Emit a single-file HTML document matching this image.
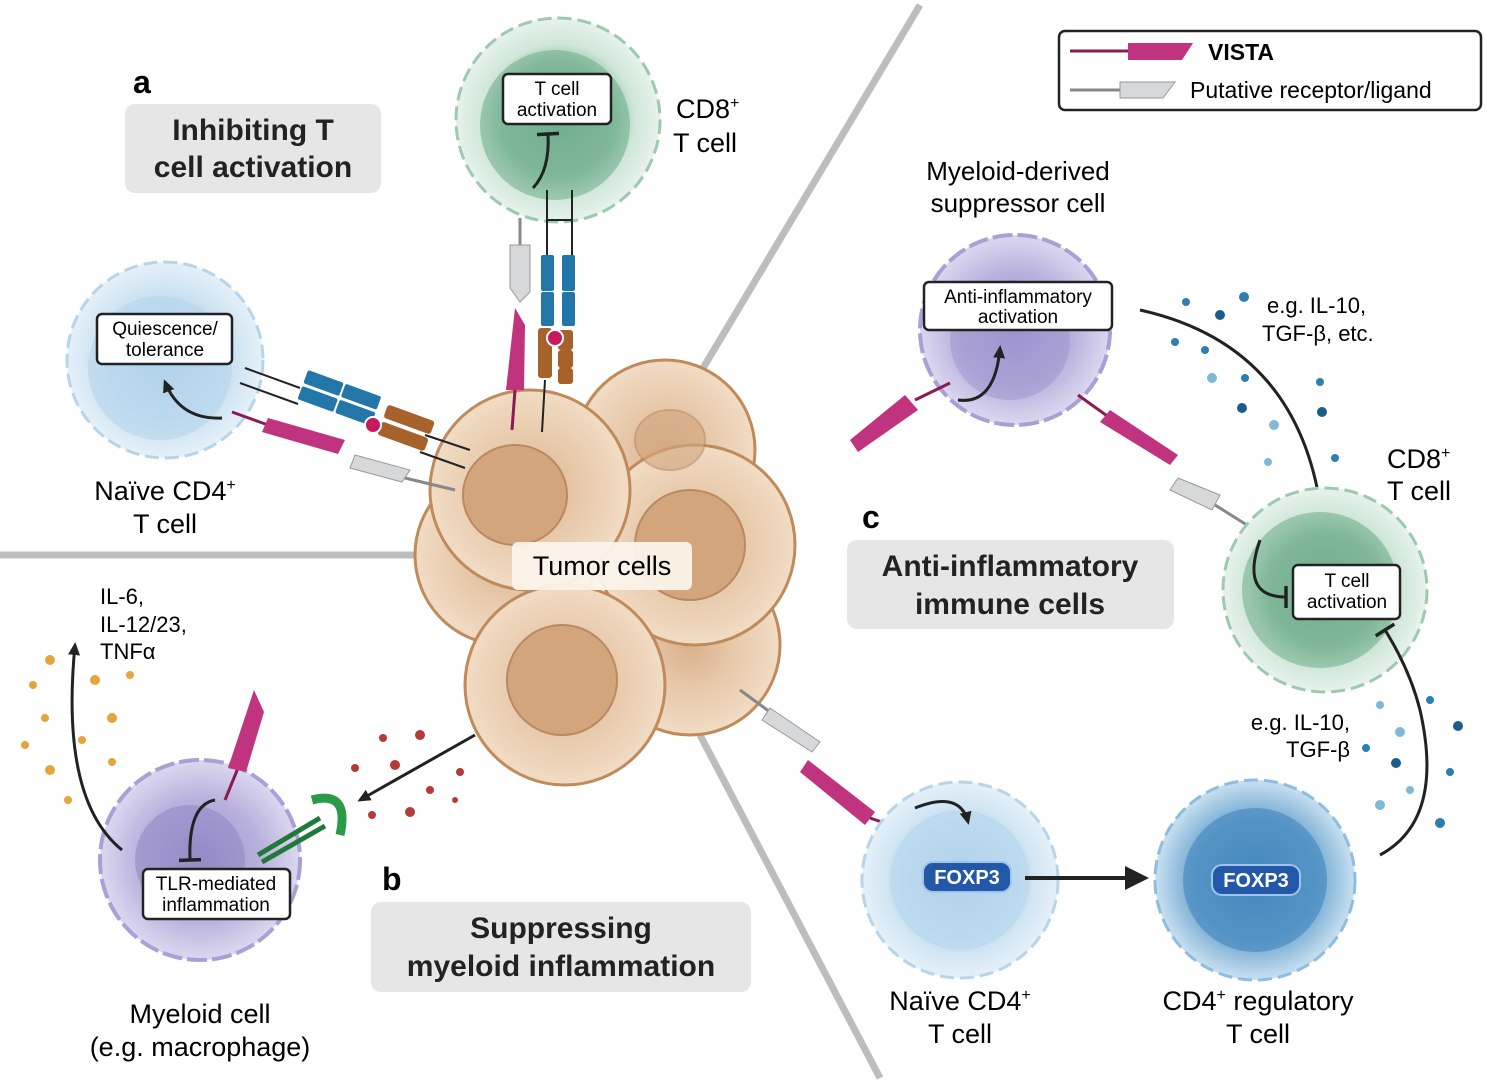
<!DOCTYPE html>
<html><head><meta charset="utf-8"><style>
body{margin:0;background:#fff;}
svg{display:block;font-family:"Liberation Sans",sans-serif;}
.b{font-weight:bold}
</style></head><body>
<svg width="1487" height="1080" viewBox="0 0 1487 1080">
<defs>
<radialGradient id="gG" cx="50%" cy="50%" r="50%"><stop offset="0" stop-color="#6aa889"/><stop offset="0.55" stop-color="#8fc2a5"/><stop offset="0.75" stop-color="#cfe6d8"/><stop offset="1" stop-color="#e8f3ec"/></radialGradient>
<radialGradient id="gB" cx="50%" cy="50%" r="50%"><stop offset="0" stop-color="#a9cde4"/><stop offset="0.6" stop-color="#c4def0"/><stop offset="1" stop-color="#e6f1f9"/></radialGradient>
<radialGradient id="gT" cx="50%" cy="50%" r="50%"><stop offset="0" stop-color="#3d7fb3"/><stop offset="0.6" stop-color="#6aa4cf"/><stop offset="1" stop-color="#c9e0f0"/></radialGradient>
<radialGradient id="gP" cx="50%" cy="50%" r="50%"><stop offset="0" stop-color="#9d93cf"/><stop offset="0.6" stop-color="#b8b0dd"/><stop offset="1" stop-color="#dcd8ef"/></radialGradient>
<radialGradient id="gTu" cx="50%" cy="50%" r="50%"><stop offset="0" stop-color="#d9b08c"/><stop offset="0.5" stop-color="#e7c9aa"/><stop offset="1" stop-color="#f1dcc5"/></radialGradient>
<marker id="ar" markerUnits="userSpaceOnUse" markerWidth="14" markerHeight="14" refX="10" refY="7" orient="auto"><path d="M0,1 L13,7 L0,13 z" fill="#222"/></marker>
<marker id="ar2" markerUnits="userSpaceOnUse" markerWidth="26" markerHeight="26" refX="20" refY="13" orient="auto"><path d="M0,1 L24,13 L0,25 z" fill="#222"/></marker>
<marker id="tb" markerUnits="userSpaceOnUse" markerWidth="6" markerHeight="24" refX="3" refY="12" orient="auto"><path d="M3,1 L3,23" stroke="#222" stroke-width="3.5"/></marker>
</defs>

<g stroke="#bdbdbd" stroke-width="7" fill="none">
<path d="M920,5 L690,390"/>
<path d="M0,555 L420,555"/>
<path d="M700,735 L880,1078"/>
</g>

<rect x="1059" y="31" width="422" height="79" rx="6" fill="#fff" stroke="#222" stroke-width="2.5"/>
<path d="M1070,51 L1130,51" stroke="#8b1b50" stroke-width="3"/>
<path d="M1128,43 L1193,43 L1182,60 L1128,60 z" fill="#c0337f"/>
<text x="1208" y="60" font-size="23" class="b">VISTA</text>
<path d="M1070,90 L1120,90" stroke="#888" stroke-width="3"/>
<path d="M1120,82 L1175,82 L1163,98 L1120,98 z" fill="#d6d8da" stroke="#999"/>
<text x="1190" y="98" font-size="23">Putative receptor/ligand</text>

<text x="133" y="93" font-size="32" class="b">a</text>
<rect x="125" y="104" width="256" height="89" rx="10" fill="#e6e6e6"/>
<text x="253" y="140" font-size="30" class="b" text-anchor="middle" fill="#222">Inhibiting T</text>
<text x="253" y="177" font-size="30" class="b" text-anchor="middle" fill="#222">cell activation</text>

<text x="382" y="890" font-size="32" class="b">b</text>
<rect x="371" y="902" width="380" height="90" rx="10" fill="#e6e6e6"/>
<text x="561" y="938" font-size="30" class="b" text-anchor="middle" fill="#222">Suppressing</text>
<text x="561" y="976" font-size="30" class="b" text-anchor="middle" fill="#222">myeloid inflammation</text>

<text x="862" y="528" font-size="32" class="b">c</text>
<rect x="847" y="540" width="327" height="89" rx="10" fill="#e6e6e6"/>
<text x="1010" y="576" font-size="30" class="b" text-anchor="middle" fill="#222">Anti-inflammatory</text>
<text x="1010" y="614" font-size="30" class="b" text-anchor="middle" fill="#222">immune cells</text>

<g stroke="#c08a5a" stroke-width="3">
<circle cx="665" cy="450" r="90" fill="url(#gTu)"/>
<circle cx="505" cy="555" r="90" fill="url(#gTu)"/>
<circle cx="690" cy="645" r="90" fill="url(#gTu)"/>
<circle cx="695" cy="545" r="100" fill="url(#gTu)"/>
<circle cx="530" cy="490" r="100" fill="url(#gTu)"/>
<circle cx="565" cy="685" r="100" fill="url(#gTu)"/>
</g>
<g fill="#d3a57d" stroke="#b98a62" stroke-width="2">
<ellipse cx="515" cy="495" rx="52" ry="50"/>
<ellipse cx="690" cy="545" rx="55" ry="55"/>
<ellipse cx="562" cy="680" rx="55" ry="55"/>
<ellipse cx="670" cy="440" rx="35" ry="30" opacity=".6"/>
</g>
<rect x="512" y="542" width="180" height="48" rx="6" fill="#fbf3ea" opacity=".95"/>
<text x="602" y="575" font-size="27" text-anchor="middle">Tumor cells</text>

<circle cx="558" cy="120" r="102" fill="url(#gG)" stroke="#9ccab0" stroke-width="3" stroke-dasharray="14 6"/>
<circle cx="555" cy="125" r="75" fill="#75b08f" opacity=".6"/>
<rect x="503" y="74" width="108" height="50" rx="5" fill="#fff" stroke="#222" stroke-width="2.5"/>
<text x="557" y="95" font-size="19" text-anchor="middle">T cell</text>
<text x="557" y="116" font-size="19" text-anchor="middle">activation</text>
<path d="M533,188 Q550,170 548,134" stroke="#222" stroke-width="3" fill="none" marker-end="url(#tb)"/>
<text x="676" y="118" font-size="27">CD8<tspan font-size="16" dy="-10">+</tspan></text>
<text x="673" y="152" font-size="27">T cell</text>
<path d="M520,218 L520,245" stroke="#888" stroke-width="3"/>
<path d="M510,245 L530,245 L530,292 L520,302 L510,288 z" fill="#d6d8da" stroke="#999"/>
<path d="M515,308 L525,325 L524,390 L506,390 z" fill="#c0337f"/>
<path d="M515,390 L512,430" stroke="#8b1b50" stroke-width="3"/>
<path d="M547,190 L547,255 M572,190 L572,255 M547,220 L572,220" stroke="#222" stroke-width="2"/>
<g fill="#2277a8"><rect x="541" y="255" width="13" height="36" rx="2"/><rect x="541" y="292" width="13" height="34" rx="2"/><rect x="562" y="255" width="13" height="36" rx="2"/><rect x="562" y="292" width="13" height="34" rx="2"/></g>
<g fill="#a6622a"><rect x="538" y="328" width="14" height="50" rx="3"/><rect x="558" y="330" width="15" height="20" rx="3"/><rect x="558" y="350" width="15" height="18" rx="3"/><rect x="558" y="368" width="15" height="16" rx="3"/></g>
<circle cx="555" cy="338" r="8" fill="#c8195f" stroke="#fff" stroke-width="2"/>
<path d="M545,380 L542,432" stroke="#222" stroke-width="2"/>

<circle cx="165" cy="360" r="98" fill="url(#gB)" stroke="#b6d5ea" stroke-width="3" stroke-dasharray="14 6"/>
<circle cx="160" cy="368" r="72" fill="#b5d5ec" opacity=".6"/>
<rect x="97" y="314" width="135" height="50" rx="5" fill="#fff" stroke="#222" stroke-width="2.5"/>
<text x="165" y="335" font-size="19" text-anchor="middle">Quiescence/</text>
<text x="165" y="356" font-size="19" text-anchor="middle">tolerance</text>
<path d="M222,418 Q180,420 165,382" stroke="#222" stroke-width="3" fill="none" marker-end="url(#ar)"/>
<text x="165" y="500" font-size="27" text-anchor="middle">Naïve CD4<tspan font-size="16" dy="-10">+</tspan></text>
<text x="165" y="533" font-size="27" text-anchor="middle">T cell</text>
<path d="M245,368 L300,388 M240,383 L298,404" stroke="#222" stroke-width="2"/>
<g fill="#2277a8" transform="rotate(20 340 405)"><rect x="298" y="383" width="38" height="14" rx="2"/><rect x="338" y="383" width="38" height="14" rx="2"/><rect x="298" y="400" width="38" height="14" rx="2"/><rect x="338" y="400" width="38" height="14" rx="2"/></g>
<g fill="#a6622a" transform="rotate(20 400 430)"><rect x="380" y="410" width="50" height="14" rx="3"/><rect x="380" y="428" width="50" height="14" rx="3"/></g>
<circle cx="373" cy="425" r="8" fill="#c8195f" stroke="#fff" stroke-width="2"/>
<path d="M425,435 L470,450 M420,452 L465,468" stroke="#222" stroke-width="2"/>
<path d="M232,412 L268,425" stroke="#8b1b50" stroke-width="3"/>
<path d="M268,418 L345,440 L338,454 L262,432 z" fill="#c0337f"/>
<path d="M355,455 L410,470 L402,482 L350,468 z" fill="#d6d8da" stroke="#999"/>
<path d="M405,478 L455,490" stroke="#888" stroke-width="3"/>

<circle cx="200" cy="860" r="100" fill="url(#gP)" stroke="#a9a0d5" stroke-width="4" stroke-dasharray="20 5"/>
<circle cx="190" cy="860" r="55" fill="#8c84c0" opacity=".5"/>
<rect x="143" y="869" width="147" height="50" rx="5" fill="#fff" stroke="#222" stroke-width="2.5"/>
<text x="216" y="890" font-size="19" text-anchor="middle">TLR-mediated</text>
<text x="216" y="911" font-size="19" text-anchor="middle">inflammation</text>
<path d="M215,800 Q188,805 190,860" stroke="#222" stroke-width="3" fill="none" marker-end="url(#tb)"/>
<path d="M225,800 L238,768" stroke="#8b1b50" stroke-width="3"/>
<path d="M254,690 L264,712 L246,772 L228,768 z" fill="#c0337f"/>
<path d="M258,855 L320,818 M262,862 L325,826" stroke="#1f7a3a" stroke-width="5"/>
<path d="M312,800 Q350,790 340,835" stroke="#2a9a48" stroke-width="9" fill="none"/>
<path d="M122,850 Q60,800 75,645" stroke="#222" stroke-width="3" fill="none" marker-end="url(#ar)"/>
<text x="100" y="604" font-size="22">IL-6,</text>
<text x="100" y="632" font-size="22">IL-12/23,</text>
<text x="100" y="659" font-size="22">TNFα</text>
<text x="200" y="1023" font-size="27" text-anchor="middle">Myeloid cell</text>
<text x="200" y="1056" font-size="27" text-anchor="middle">(e.g. macrophage)</text>
<g fill="#e5a43c"><circle cx="50" cy="660" r="5"/><circle cx="33" cy="685" r="4"/><circle cx="95" cy="680" r="5"/><circle cx="45" cy="718" r="4"/><circle cx="112" cy="718" r="5"/><circle cx="25" cy="745" r="4"/><circle cx="82" cy="740" r="4"/><circle cx="50" cy="770" r="5"/><circle cx="112" cy="762" r="4"/><circle cx="68" cy="800" r="4"/><circle cx="130" cy="675" r="4"/></g>
<path d="M475,735 L360,800" stroke="#222" stroke-width="3" marker-end="url(#ar)"/>
<g fill="#b53a3a"><circle cx="383" cy="738" r="4"/><circle cx="420" cy="735" r="5"/><circle cx="355" cy="768" r="4"/><circle cx="395" cy="765" r="5"/><circle cx="460" cy="772" r="4"/><circle cx="430" cy="790" r="4"/><circle cx="372" cy="815" r="4"/><circle cx="410" cy="812" r="5"/><circle cx="455" cy="800" r="3"/></g>

<text x="1018" y="180" font-size="26" text-anchor="middle">Myeloid-derived</text>
<text x="1018" y="212" font-size="26" text-anchor="middle">suppressor cell</text>
<circle cx="1015" cy="330" r="95" fill="url(#gP)" stroke="#a9a0d5" stroke-width="4" stroke-dasharray="20 5"/>
<circle cx="1010" cy="340" r="60" fill="#9c93cd" opacity=".5"/>
<rect x="924" y="282" width="188" height="48" rx="5" fill="#fff" stroke="#222" stroke-width="2.5"/>
<text x="1018" y="303" font-size="19" text-anchor="middle">Anti-inflammatory</text>
<text x="1018" y="323" font-size="19" text-anchor="middle">activation</text>
<path d="M958,400 Q995,405 1000,348" stroke="#222" stroke-width="3" fill="none" marker-end="url(#ar)"/>
<path d="M950,383 L915,400" stroke="#8b1b50" stroke-width="3"/>
<path d="M905,395 L918,410 L858,452 L850,440 z" fill="#c0337f"/>
<path d="M1078,395 L1110,418" stroke="#8b1b50" stroke-width="3"/>
<path d="M1110,410 L1178,455 L1170,465 L1100,422 z" fill="#c0337f"/>
<path d="M1178,478 L1220,495 L1212,510 L1170,490 z" fill="#d6d8da" stroke="#999"/>
<path d="M1215,505 L1258,532" stroke="#888" stroke-width="3"/>
<path d="M1140,310 Q1320,350 1325,560" stroke="#222" stroke-width="3" fill="none" marker-end="url(#tb)"/>
<text x="1267" y="313" font-size="22">e.g. IL-10,</text>
<text x="1262" y="341" font-size="22">TGF-β, etc.</text>
<g fill="#2c7fae"><circle cx="1186" cy="302" r="4"/><circle cx="1244" cy="297" r="5"/><circle cx="1220" cy="315" r="5" fill="#1a5d8a"/><circle cx="1175" cy="342" r="4"/><circle cx="1205" cy="350" r="4"/><circle cx="1212" cy="378" r="5" fill="#7fb8d8"/><circle cx="1245" cy="378" r="4"/><circle cx="1242" cy="408" r="5" fill="#1a5d8a"/><circle cx="1274" cy="425" r="5" fill="#7fb8d8"/><circle cx="1320" cy="382" r="4"/><circle cx="1322" cy="412" r="5" fill="#1a5d8a"/><circle cx="1268" cy="462" r="4" fill="#7fb8d8"/><circle cx="1335" cy="458" r="4"/></g>

<text x="1387" y="468" font-size="27">CD8<tspan font-size="16" dy="-10">+</tspan></text>
<text x="1387" y="500" font-size="27">T cell</text>
<circle cx="1325" cy="590" r="102" fill="url(#gG)" stroke="#9ccab0" stroke-width="3" stroke-dasharray="14 6"/>
<circle cx="1320" cy="590" r="78" fill="#75b08f" opacity=".6"/>
<rect x="1293" y="565" width="107" height="54" rx="5" fill="#fff" stroke="#222" stroke-width="2.5"/>
<text x="1347" y="587" font-size="19" text-anchor="middle">T cell</text>
<text x="1347" y="608" font-size="19" text-anchor="middle">activation</text>
<path d="M1260,540 Q1240,597 1286,597" stroke="#222" stroke-width="3" fill="none" marker-end="url(#tb)"/>
<path d="M1380,855 Q1445,820 1420,710 Q1410,670 1385,630" stroke="#222" stroke-width="3" fill="none" marker-end="url(#tb)"/>
<text x="1350" y="730" font-size="22" text-anchor="end">e.g. IL-10,</text>
<text x="1350" y="757" font-size="22" text-anchor="end">TGF-β</text>
<g fill="#2c7fae"><circle cx="1380" cy="705" r="4" fill="#7fb8d8"/><circle cx="1430" cy="700" r="4"/><circle cx="1458" cy="726" r="5" fill="#1a5d8a"/><circle cx="1400" cy="732" r="5" fill="#7fb8d8"/><circle cx="1366" cy="748" r="4"/><circle cx="1396" cy="763" r="5" fill="#1a5d8a"/><circle cx="1450" cy="772" r="4"/><circle cx="1410" cy="790" r="4" fill="#7fb8d8"/><circle cx="1380" cy="805" r="5" fill="#7fb8d8"/><circle cx="1440" cy="823" r="5"/></g>

<path d="M740,690 L770,712" stroke="#888" stroke-width="3"/>
<path d="M770,708 L820,742 L812,752 L762,720 z" fill="#d6d8da" stroke="#999"/>
<path d="M808,760 L875,812 L865,825 L800,772 z" fill="#c0337f"/>
<path d="M870,818 L905,830" stroke="#8b1b50" stroke-width="3"/>
<circle cx="960" cy="880" r="98" fill="url(#gB)" stroke="#b6d5ea" stroke-width="3" stroke-dasharray="14 6"/>
<circle cx="960" cy="880" r="70" fill="#b5d5ec" opacity=".6"/>
<path d="M915,808 Q960,790 968,822" stroke="#222" stroke-width="3" fill="none" marker-end="url(#ar)"/>
<rect x="923" y="862" width="88" height="30" rx="10" fill="#2358a8" stroke="#9fc3ea" stroke-width="2"/>
<text x="967" y="884" font-size="20" class="b" fill="#fff" text-anchor="middle">FOXP3</text>
<path d="M1025,878 L1145,878" stroke="#222" stroke-width="4" marker-end="url(#ar2)"/>
<text x="960" y="1010" font-size="27" text-anchor="middle">Naïve CD4<tspan font-size="16" dy="-10">+</tspan></text>
<text x="960" y="1043" font-size="27" text-anchor="middle">T cell</text>

<circle cx="1255" cy="880" r="100" fill="url(#gT)" stroke="#8dbde0" stroke-width="3" stroke-dasharray="14 6"/>
<circle cx="1255" cy="880" r="72" fill="#4a8cc0" opacity=".7"/>
<rect x="1212" y="865" width="88" height="30" rx="10" fill="#2358a8" stroke="#9fc3ea" stroke-width="2"/>
<text x="1256" y="887" font-size="20" class="b" fill="#fff" text-anchor="middle">FOXP3</text>
<text x="1258" y="1010" font-size="27" text-anchor="middle">CD4<tspan font-size="16" dy="-10">+</tspan><tspan dy="10"> regulatory</tspan></text>
<text x="1258" y="1043" font-size="27" text-anchor="middle">T cell</text>
</svg>
</body></html>
